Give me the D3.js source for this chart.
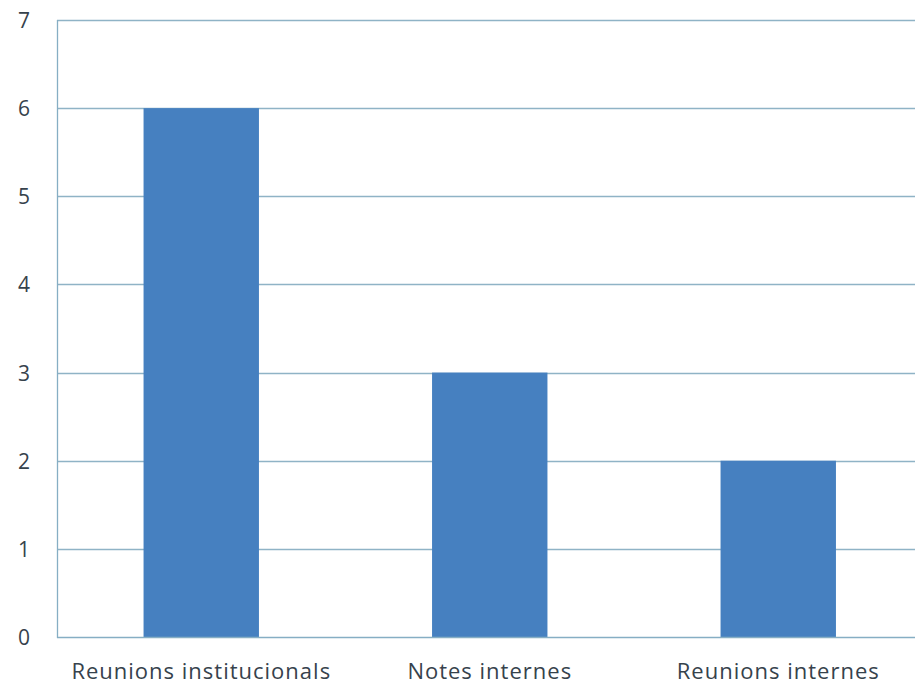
<!DOCTYPE html>
<html><head><meta charset="utf-8">
<script src="https://cdn.jsdelivr.net/npm/d3@7"></script>
<style>body{margin:0;background:#fff}svg{display:block}</style>
</head><body>
<svg id="c" width="915" height="689"></svg>
<script>
const categories = ["Reunions institucionals", "Notes internes", "Reunions internes"];
const values = [6, 3, 2];
const yTicks = [0, 1, 2, 3, 4, 5, 6, 7];

const svg = d3.select("#c");
const plotL = 57, plotR = 922.5, plotT = 20, plotB = 637;
const x = d3.scaleBand().domain(categories).range([plotL, plotR]).paddingInner(0.6).paddingOuter(0.3);
const y = d3.scaleLinear().domain([0, 7]).range([plotB, plotT]);
const txt = "#36424c";
const font = "'Open Sans', sans-serif";

// gridlines
svg.append("g").selectAll("line").data(yTicks.filter(d => d > 0)).join("line")
  .attr("x1", plotL).attr("x2", 915)
  .attr("y1", d => Math.round(y(d)) + 0.5).attr("y2", d => Math.round(y(d)) + 0.5)
  .attr("stroke", "#8fb3c6").attr("stroke-width", 1.3);

// bars
svg.append("g").selectAll("rect").data(values).join("rect")
  .attr("x", (d, i) => x(categories[i])).attr("width", x.bandwidth())
  .attr("y", d => y(d)).attr("height", d => y(0) - y(d))
  .attr("fill", "#4680c0");

// axes lines
svg.append("line").attr("x1", plotL + 0.5).attr("x2", plotL + 0.5).attr("y1", plotT).attr("y2", plotB + 1)
  .attr("stroke", "#86aec4").attr("stroke-width", 1.3);
svg.append("line").attr("x1", plotL).attr("x2", 915).attr("y1", plotB + 0.5).attr("y2", plotB + 0.5)
  .attr("stroke", "#86aec4").attr("stroke-width", 1.3);

// y tick labels
const yAxis = d3.axisLeft(y).tickValues(yTicks).tickSize(0).tickPadding(0).tickFormat(d3.format("d"));
const ya = svg.append("g").attr("transform", "translate(30,0)").call(yAxis);
ya.select(".domain").remove();
ya.selectAll("text").attr("font-family", font).attr("font-size", 21).attr("fill", txt).attr("dy", "0.36em");

// x labels
const xAxis = d3.axisBottom(x).tickSize(0).tickPadding(0);
const xa = svg.append("g").attr("transform", "translate(0,679)").call(xAxis);
xa.select(".domain").remove();
xa.selectAll("text").attr("font-family", font).attr("font-size", 22).attr("letter-spacing", "1px")
  .attr("fill", txt).attr("dy", "0");
</script>
</body></html>
